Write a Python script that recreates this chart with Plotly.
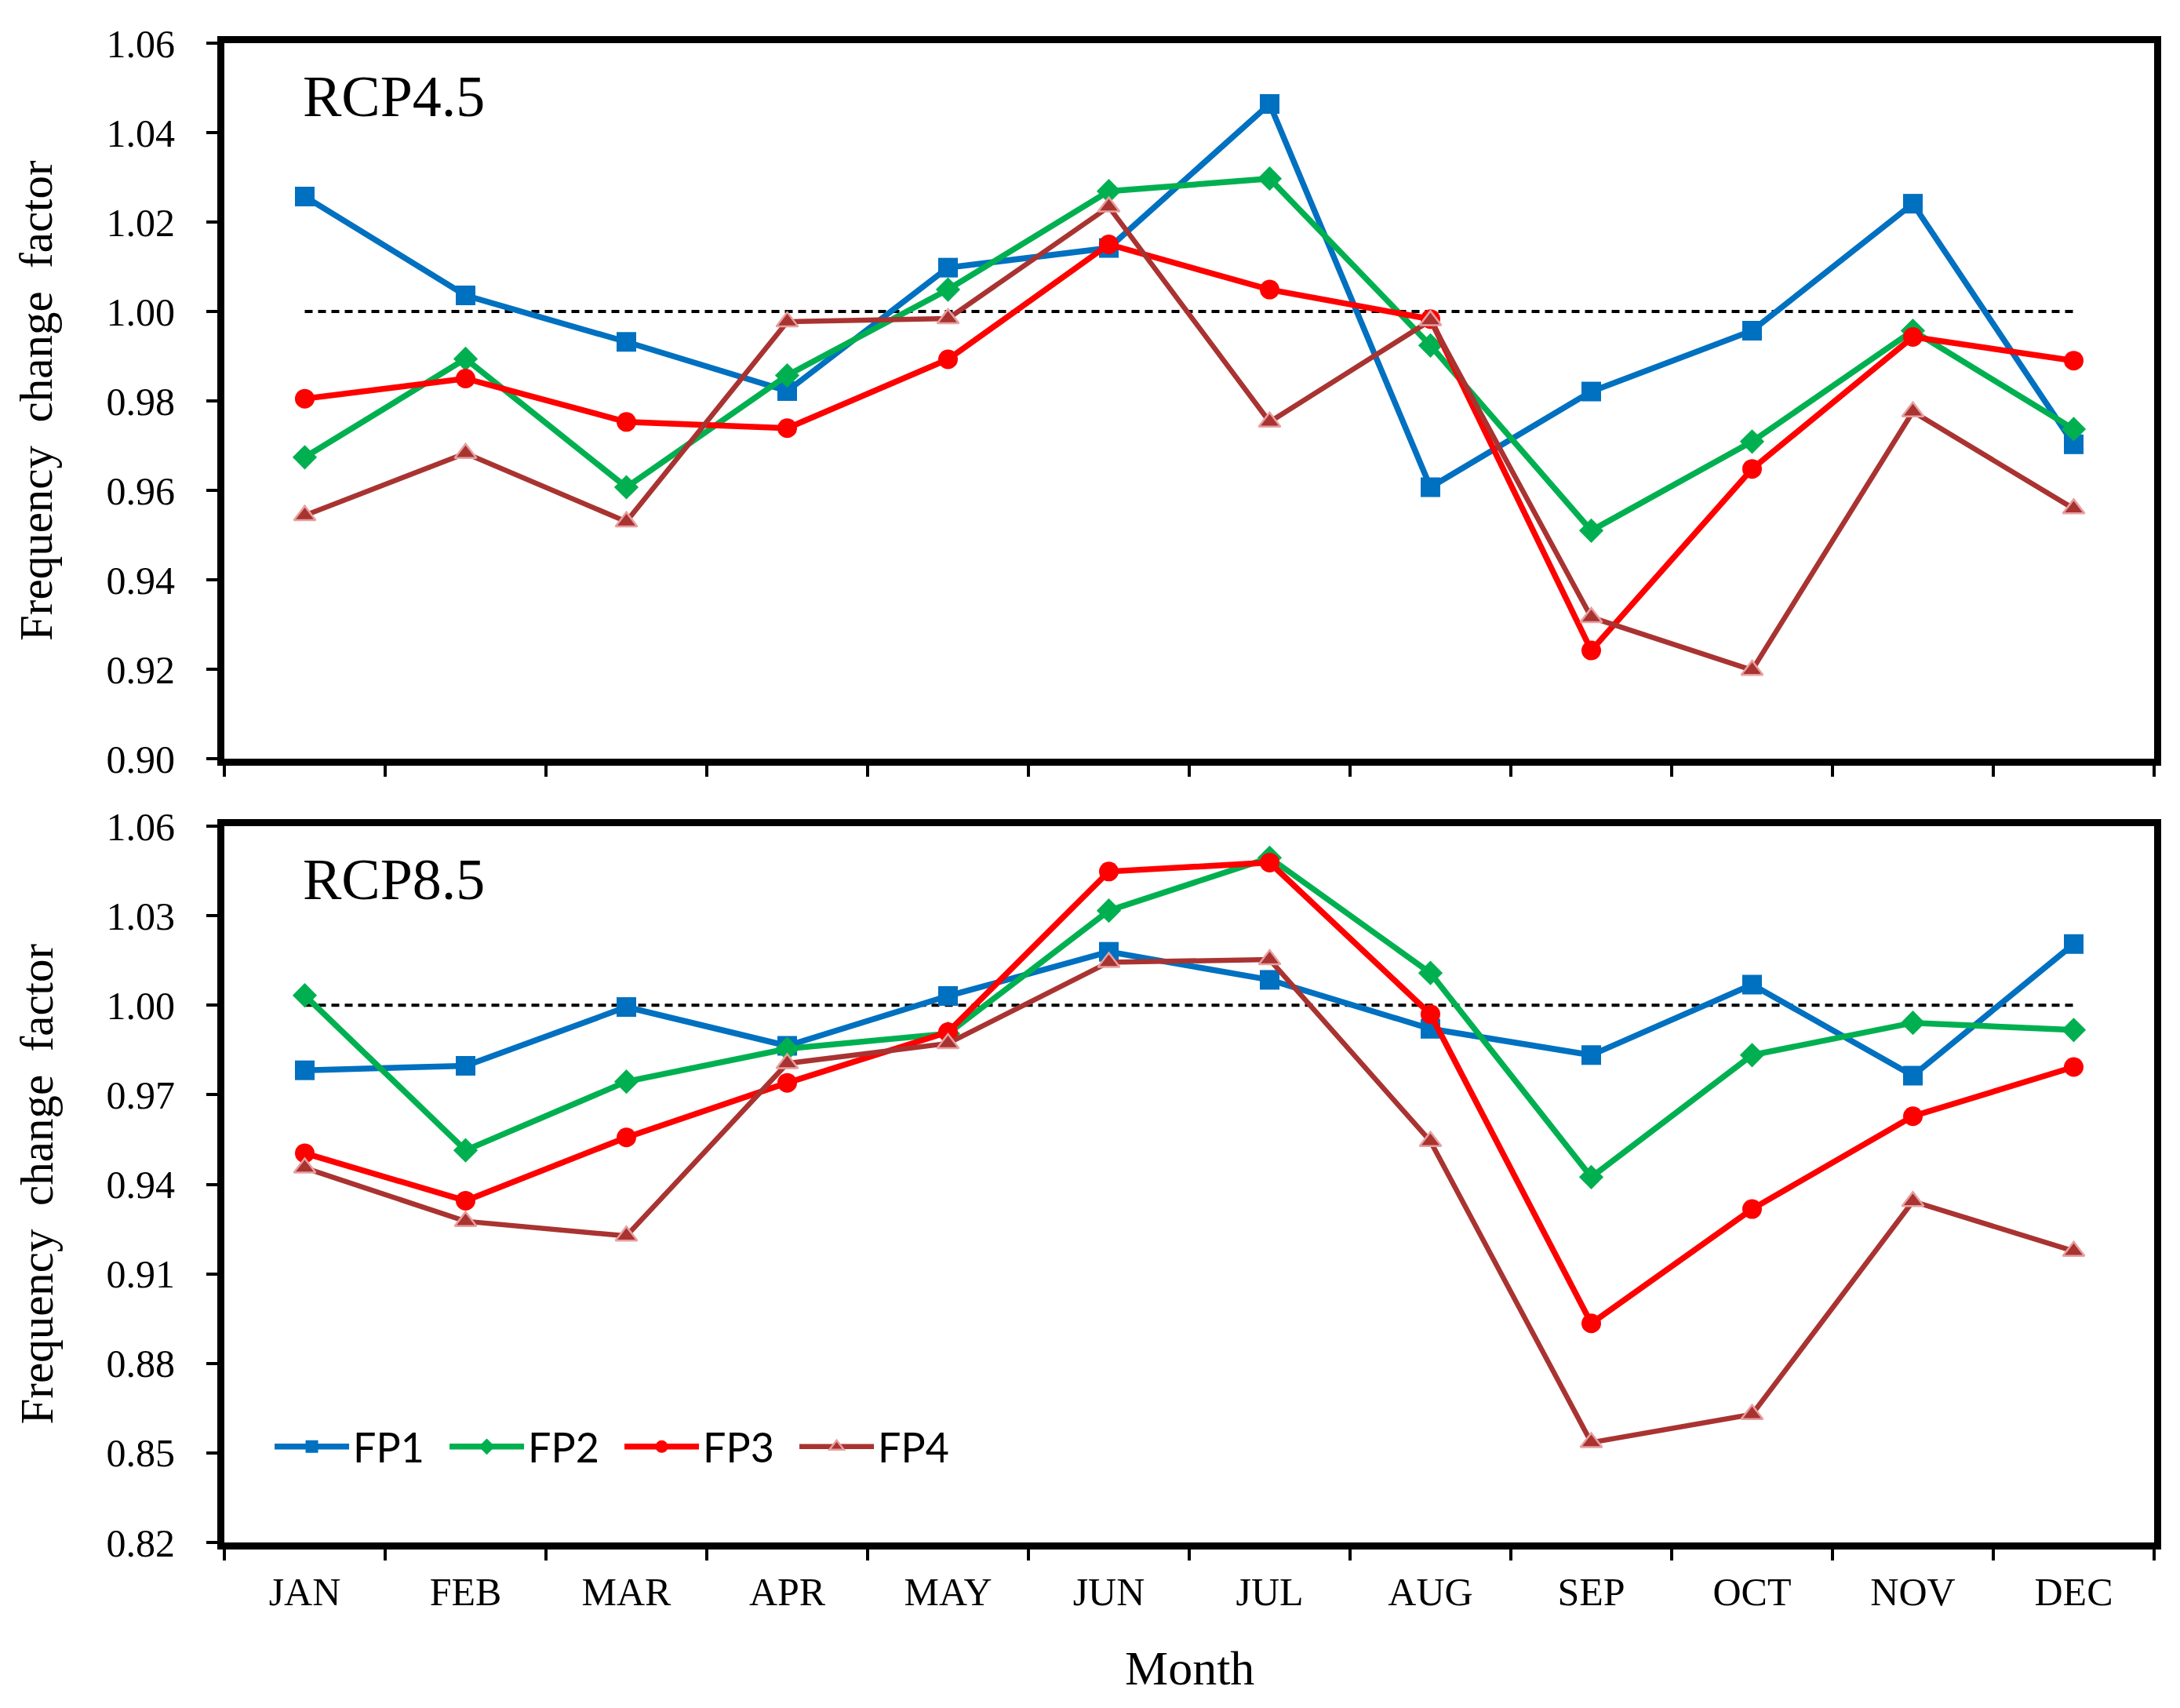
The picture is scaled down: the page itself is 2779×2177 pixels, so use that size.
import plotly.graph_objects as go

months = ["JAN", "FEB", "MAR", "APR", "MAY", "JUN", "JUL", "AUG", "SEP", "OCT", "NOV", "DEC"]
series_names = ["FP1", "FP2", "FP3", "FP4"]

# RCP4.5 panel
rcp45_fp1 = [1.0257, 1.0036, 0.9932, 0.9822, 1.0098, 1.0142, 1.0464, 0.9607, 0.9821, 0.9957, 1.0241, 0.9703]
rcp45_fp2 = [0.9674, 0.9894, 0.9607, 0.9857, 1.0049, 1.0269, 1.0297, 0.9924, 0.9510, 0.9709, 0.9957, 0.9737]
rcp45_fp3 = [0.9805, 0.9850, 0.9753, 0.9739, 0.9893, 1.0150, 1.0049, 0.9983, 0.9242, 0.9648, 0.9943, 0.9890]
rcp45_fp4 = [0.9544, 0.9683, 0.9530, 0.9977, 0.9984, 1.0234, 0.9753, 0.9980, 0.9316, 0.9198, 0.9776, 0.9559]

# RCP8.5 panel
rcp85_fp1 = [0.9782, 0.9797, 0.9994, 0.9864, 1.0031, 1.0179, 1.0085, 0.9921, 0.9833, 1.0069, 0.9764, 1.0205]
rcp85_fp2 = [1.0033, 0.9514, 0.9744, 0.9854, 0.9905, 1.0317, 1.0494, 1.0108, 0.9424, 0.9833, 0.9941, 0.9917]
rcp85_fp3 = [0.9504, 0.9345, 0.9557, 0.9740, 0.9910, 1.0448, 1.0478, 0.9970, 0.8934, 0.9317, 0.9628, 0.9793]
rcp85_fp4 = [0.9455, 0.9276, 0.9227, 0.9805, 0.9872, 1.0144, 1.0153, 0.9544, 0.8535, 0.8629, 0.9343, 0.9176]

baseline = [1.0] * len(months)

panel_labels = ["RCP4.5", "RCP8.5"]
y_title = "Frequency\u00a0 change\u00a0 factor"
x_title = "Month"
top_ticks = [0.90, 0.92, 0.94, 0.96, 0.98, 1.00, 1.02, 1.04, 1.06]
bottom_ticks = [0.82, 0.85, 0.88, 0.91, 0.94, 0.97, 1.00, 1.03, 1.06]

colors = ["#0070C0", "#00B050", "#FF0000", "#A93331"]
symbols = ["square", "diamond", "circle", "triangle-up"]
msizes = [25, 24, 25, 24]

SERIF = "Liberation Serif, Times New Roman, serif"
W, H = 2779, 2177
ML, MR, MT, MB = 278, 41, 47, 219
PW = W - ML - MR
PH = H - MT - MB

def fy(py):
    """paper fraction for a pixel row of the picture"""
    return (H - MB - py) / PH

fig = go.Figure()

for panel, (data, xa, ya) in enumerate([
    ([rcp45_fp1, rcp45_fp2, rcp45_fp3, rcp45_fp4], "x", "y"),
    ([rcp85_fp1, rcp85_fp2, rcp85_fp3, rcp85_fp4], "x2", "y2"),
]):
    fig.add_trace(go.Scatter(
        x=months, y=baseline, mode="lines", xaxis=xa, yaxis=ya,
        line=dict(color="black", width=4, dash="10px,7px"),
        showlegend=False, hoverinfo="skip"))
    for i, vals in enumerate(data):
        mline = dict(width=2.5, color="#E6A0A0") if i == 3 else dict(width=0)
        fig.add_trace(go.Scatter(
            x=months, y=vals, mode="lines+markers", name=series_names[i],
            xaxis=xa, yaxis=ya,
            line=dict(color=colors[i], width=7.5 if i != 3 else 6.5),
            marker=dict(symbol=symbols[i], size=msizes[i], color=colors[i], line=mline),
            showlegend=(panel == 1)))

axis_common = dict(
    showline=True, linecolor="black", linewidth=9, mirror=True,
    ticks="outside", tickcolor="black", tickwidth=3.5, ticklen=14,
    showgrid=False, zeroline=False,
    tickfont=dict(family=SERIF, size=50, color="black"),
)

top_dom = [fy(959), 1.0]
bot_dom = [0.0, fy(1045)]

fig.update_layout(
    width=W, height=H,
    margin=dict(l=ML, r=MR, t=MT, b=MB),
    paper_bgcolor="white", plot_bgcolor="white",
    xaxis=dict(axis_common, domain=[0, 1], anchor="y", type="category",
               categoryorder="array", categoryarray=months, tickson="boundaries",
               range=[-0.5, 11.5], showticklabels=False),
    yaxis=dict(axis_common, domain=top_dom, anchor="x", range=[0.90, 1.06],
               tickvals=top_ticks, tickformat=".2f", ticklabelstandoff=30),
    xaxis2=dict(axis_common, domain=[0, 1], anchor="y2", type="category",
                categoryorder="array", categoryarray=months, tickson="boundaries",
                range=[-0.5, 11.5], ticklabelstandoff=11),
    yaxis2=dict(axis_common, domain=bot_dom, anchor="x2", range=[0.82, 1.06],
                tickvals=bottom_ticks, tickformat=".2f", ticklabelstandoff=30),
    legend=dict(orientation="h", x=0.024, y=fy(1836), xanchor="left", yanchor="middle",
                bgcolor="rgba(0,0,0,0)", borderwidth=0,
                font=dict(family="Lato, Noto Sans, sans-serif", size=52, color="black"),
                itemwidth=95, entrywidth=113, entrywidthmode="pixels",
                tracegroupgap=0,
                itemclick=False, itemdoubleclick=False),
    showlegend=True,
)

annotations = []
for lab, dom, ylab in [(panel_labels[0], top_dom, fy(115)), (panel_labels[1], bot_dom, fy(1113))]:
    annotations.append(dict(
        text=lab, xref="paper", yref="paper", x=(376 - ML) / PW, y=ylab,
        xanchor="left", yanchor="middle", showarrow=False,
        font=dict(family=SERIF, size=74, color="black")))
    annotations.append(dict(
        text=y_title, xref="paper", yref="paper", x=0, y=(dom[0] + dom[1]) / 2,
        xshift=-(ML - 38), xanchor="center", yanchor="middle", textangle=-90,
        showarrow=False, font=dict(family=SERIF, size=59, color="black")))
annotations.append(dict(
    text=x_title, xref="paper", yref="paper", x=0.5, y=0, yshift=-(2118 - (H - MB)),
    xanchor="center", yanchor="middle", showarrow=False,
    font=dict(family=SERIF, size=62, color="black")))
fig.update_layout(annotations=annotations)

fig.write_html("out.html")
